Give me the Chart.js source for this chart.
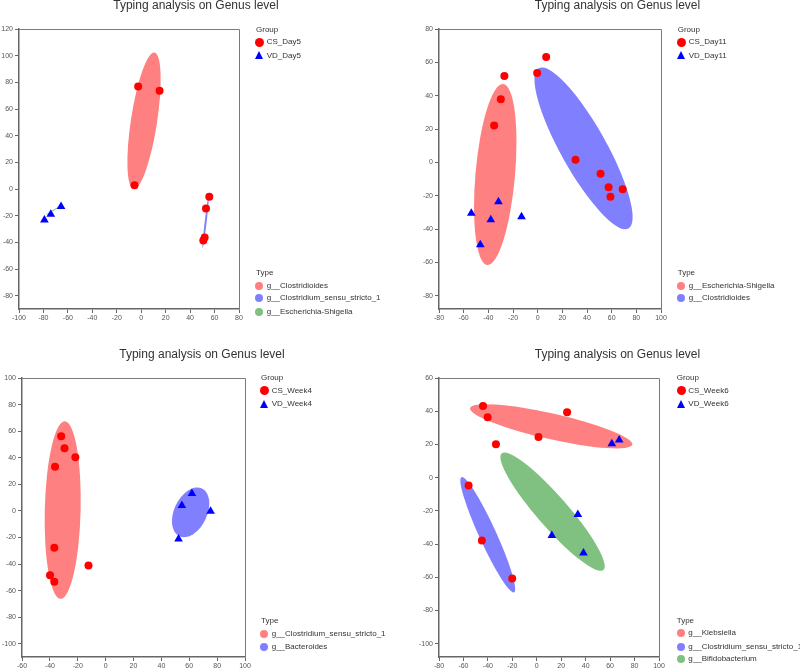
<!DOCTYPE html>
<html>
<head>
<meta charset="utf-8">
<script src="https://cdn.jsdelivr.net/npm/chart.js@4.4.1/dist/chart.umd.min.js"></script>
<style>
  html, body { margin:0; padding:0; background:#fff; }
  #wrap { position:relative; width:800px; height:670px; overflow:hidden; font-family:"Liberation Sans", Arial, sans-serif; }
  .panel { position:absolute; width:400px; height:335px; }
  .panel canvas { position:absolute; left:0; top:0; }
  .title { position:absolute; font-size:12px; line-height:12px; color:#333; white-space:nowrap; transform:translateX(-50%); }
  .lg { position:absolute; font-size:8px; line-height:10px; color:#333; white-space:nowrap; }
  .dot { position:absolute; border-radius:50%; }
  .tri { position:absolute; width:0; height:0; border-left:4.5px solid transparent; border-right:4.5px solid transparent; border-bottom:8px solid #0000ff; }
</style>
</head>
<body>
<div id="wrap"></div>
<script>
// ---------- Panel 1 : Day5 ----------
const p1Groups = ["CS_Day5", "VD_Day5"];
const p1Types = ["g__Clostridioides", "g__Clostridium_sensu_stricto_1", "g__Escherichia-Shigella"];
const p1CsX = [-2.5, 15, -5.5, 55.7, 53, 51.9, 50.8];
const p1CsY = [76.9, 73.7, 2.8, -5.9, -14.7, -36.4, -38.7];
const p1VdX = [-65.6, -74, -79.2];
const p1VdY = [-13.2, -19, -23.2];
// ellipses: [centerX, centerY, axis1X, axis1Y, axis2X, axis2Y] in data units
const p1Ell = [[2.3, 51.2, 8.55, 51.2, 10.6, -1.48], [52.7, -24.9, 2.46, 19.4, 0.81, -0.09], [-72.1, -16.1, 5.46, 3.13, 0.22, -0.32]];
const p1XTicks = [-100, -80, -60, -40, -20, 0, 20, 40, 60, 80];
const p1YTicks = [-80, -60, -40, -20, 0, 20, 40, 60, 80, 100, 120];

// ---------- Panel 2 : Day11 ----------
const p2Groups = ["CS_Day11", "VD_Day11"];
const p2Types = ["g__Escherichia-Shigella", "g__Clostridioides"];
const p2CsX = [6.9, -0.4, -27, -29.9, -35.3, 30.7, 51, 57.5, 68.9, 59];
const p2CsY = [63.2, 53.6, 51.8, 37.9, 22.1, 1.5, -6.9, -14.9, -16.1, -20.7];
const p2VdX = [-53.8, -31.8, -38, -13.1, -46.5];
const p2VdY = [-30.6, -23.7, -34.5, -32.6, -49.4];
const p2Ell = [[-34.4, -7.3, 6.42, 54.3, 15.97, -1.03], [37.2, 8.4, -36.4, 48.1, 16.1, 6.67]];
const p2XTicks = [-80, -60, -40, -20, 0, 20, 40, 60, 80, 100];
const p2YTicks = [-80, -60, -40, -20, 0, 20, 40, 60, 80];

// ---------- Panel 3 : Week4 ----------
const p3Groups = ["CS_Week4", "VD_Week4"];
const p3Types = ["g__Clostridium_sensu_stricto_1", "g__Bacteroides"];
const p3CsX = [-31.9, -29.5, -21.7, -36.3, -36.8, -12.3, -39.9, -36.8];
const p3CsY = [56.2, 47.2, 40.4, 33.2, -27.7, -41.2, -48.4, -53.4];
const p3VdX = [61.9, 54.7, 75.3, 52.3];
const p3VdY = [13, 4, -0.3, -21.1];
const p3Ell = [[-30.8, 0.6, 1.5, 66.8, 12.86, -0.31], [61, -1.1, 8.12, 18.0, 10.68, -5.26]];
const p3XTicks = [-60, -40, -20, 0, 20, 40, 60, 80, 100];
const p3YTicks = [-100, -80, -60, -40, -20, 0, 20, 40, 60, 80, 100];

// ---------- Panel 4 : Week6 ----------
const p4Groups = ["CS_Week6", "VD_Week6"];
const p4Types = ["g__Klebsiella", "g__Clostridium_sensu_stricto_1", "g__Bifidobacterium"];
const p4CsX = [-44, -40.2, 24.8, 1.4, -33.4, -55.8, -44.9, -20.1];
const p4CsY = [43.2, 36.4, 39.4, 24.4, 20.1, -4.7, -37.9, -60.8];
const p4VdX = [61.4, 67.4, 33.6, 12.3, 38.2];
const p4VdY = [20.4, 22.6, -22.2, -34.8, -45.4];
const p4Ell = [[11.8, 30.9, 66.4, -11.0, -2.31, -7.54], [-40.1, -34.4, -21.5, 34.7, 6.4, 2.14], [12.9, -20.5, -41.6, 35.1, 9.55, 6.12]];
const p4XTicks = [-80, -60, -40, -20, 0, 20, 40, 60, 80, 100];
const p4YTicks = [-100, -80, -60, -40, -20, 0, 20, 40, 60];

const TYPE_COLORS = ["rgb(255,128,128)", "rgb(128,128,255)", "rgb(128,192,128)"];
const TITLE = "Typing analysis on Genus level";

const panels = [
  { left:0, top:0, groups:p1Groups, types:p1Types, csX:p1CsX, csY:p1CsY, vdX:p1VdX, vdY:p1VdY, ell:p1Ell, xT:p1XTicks, yT:p1YTicks,
    xMin:-100, xMax:80, yMin:-90, yMax:120, L:19, R:161, T:29, B:26, titleX:196, titleY:-0.7,
    lg:{ hx:256, mx:259.3, tx:266.7, gy:[30, 42.2, 55.5], ty:[273.3, 285.7, 298.3, 311.7] } },
  { left:400, top:0, groups:p2Groups, types:p2Types, csX:p2CsX, csY:p2CsY, vdX:p2VdX, vdY:p2VdY, ell:p2Ell, xT:p2XTicks, yT:p2YTicks,
    xMin:-80, xMax:100, yMin:-88, yMax:80, L:39, R:139, T:29, B:26, titleX:217.5, titleY:-0.7,
    lg:{ hx:277.7, mx:281, tx:288.7, gy:[30, 42.3, 55.5], ty:[273.3, 285.7, 298.3] } },
  { left:0, top:335, groups:p3Groups, types:p3Types, csX:p3CsX, csY:p3CsY, vdX:p3VdX, vdY:p3VdY, ell:p3Ell, xT:p3XTicks, yT:p3YTicks,
    xMin:-60, xMax:100, yMin:-110, yMax:100, L:22, R:155, T:43, B:13, titleX:202, titleY:13,
    lg:{ hx:261, mx:264.3, tx:271.7, gy:[43.3, 55.7, 69.3], ty:[286, 299, 312.3] } },
  { left:400, top:335, groups:p4Groups, types:p4Types, csX:p4CsX, csY:p4CsY, vdX:p4VdX, vdY:p4VdY, ell:p4Ell, xT:p4XTicks, yT:p4YTicks,
    xMin:-80, xMax:100, yMin:-108, yMax:60, L:39, R:141, T:43, B:13, titleX:217.5, titleY:13,
    lg:{ hx:676.7-400, mx:281, tx:288.3, gy:[43.3, 55.7, 69.3], ty:[286, 298.3, 311.7, 324] } }
];

function zip(xs, ys) { return xs.map((x, i) => ({ x: x, y: ys[i] })); }

function ellipsePlugin(ell) {
  return {
    id: 'ellipses',
    beforeDatasetsDraw(chart) {
      const ctx = chart.ctx, xs = chart.scales.x, ys = chart.scales.y, a = chart.chartArea;
      ctx.save();
      ctx.beginPath();
      ctx.rect(a.left, a.top, a.right - a.left, a.bottom - a.top);
      ctx.clip();
      ell.forEach((e, i) => {
        const cx = xs.getPixelForValue(e[0]), cy = ys.getPixelForValue(e[1]);
        const ux = xs.getPixelForValue(e[0] + e[2]) - cx, uy = ys.getPixelForValue(e[1] + e[3]) - cy;
        const vx = xs.getPixelForValue(e[0] + e[4]) - cx, vy = ys.getPixelForValue(e[1] + e[5]) - cy;
        ctx.save();
        ctx.transform(ux, uy, vx, vy, cx, cy);
        ctx.beginPath();
        ctx.arc(0, 0, 1, 0, Math.PI * 2);
        ctx.restore();
        ctx.fillStyle = TYPE_COLORS[i];
        ctx.fill();
      });
      ctx.restore();
    }
  };
}

const boxPlugin = {
  id: 'box',
  afterDraw(chart) {
    const ctx = chart.ctx, a = chart.chartArea;
    ctx.save();
    ctx.strokeStyle = '#7a7a7a';
    ctx.lineWidth = 1;
    ctx.beginPath();
    ctx.moveTo(a.left, a.top + 0.5); ctx.lineTo(a.right + 0.5, a.top + 0.5); ctx.lineTo(a.right + 0.5, a.bottom);
    ctx.stroke();
    ctx.restore();
  }
};

const wrap = document.getElementById('wrap');

panels.forEach((p) => {
  const div = document.createElement('div');
  div.className = 'panel';
  div.style.left = p.left + 'px';
  div.style.top = p.top + 'px';
  const cv = document.createElement('canvas');
  cv.width = 400; cv.height = 335;
  cv.style.width = '400px'; cv.style.height = '335px';
  div.appendChild(cv);
  wrap.appendChild(div);

  const t = document.createElement('div');
  t.className = 'title';
  t.textContent = TITLE;
  t.style.left = p.titleX + 'px';
  t.style.top = p.titleY + 'px';
  div.appendChild(t);

  const addText = (txt, x, cy) => {
    const d = document.createElement('div');
    d.className = 'lg';
    d.textContent = txt;
    d.style.left = x + 'px';
    d.style.top = (cy - 5) + 'px';
    div.appendChild(d);
  };
  const addDot = (color, cx, cy, r) => {
    const d = document.createElement('div');
    d.className = 'dot';
    d.style.background = color;
    d.style.width = (2 * r) + 'px'; d.style.height = (2 * r) + 'px';
    d.style.left = (cx - r) + 'px'; d.style.top = (cy - r) + 'px';
    div.appendChild(d);
  };
  const addTri = (cx, cy) => {
    const d = document.createElement('div');
    d.className = 'tri';
    d.style.left = (cx - 4.5) + 'px'; d.style.top = (cy - 4.5) + 'px';
    div.appendChild(d);
  };
  const lg = p.lg;
  addText('Group', lg.hx, lg.gy[0]);
  addDot('#ff0000', lg.mx, lg.gy[1], 4.5); addText(p.groups[0], lg.tx, lg.gy[1]);
  addTri(lg.mx, lg.gy[2]); addText(p.groups[1], lg.tx, lg.gy[2]);
  addText('Type', lg.hx, lg.ty[0]);
  p.types.forEach((ty, i) => {
    addDot(TYPE_COLORS[i], lg.mx, lg.ty[i + 1], 4);
    addText(ty, lg.tx, lg.ty[i + 1]);
  });

  const tickFont = { family: '"Liberation Sans", Arial, sans-serif', size: 7 };
  new Chart(cv, {
    type: 'scatter',
    data: {
      datasets: [
        { label: p.groups[0], data: zip(p.csX, p.csY), pointStyle: 'circle', pointRadius: 4, pointHoverRadius: 4,
          backgroundColor: '#ff0000', borderColor: '#ff0000', borderWidth: 0 },
        { label: p.groups[1], data: zip(p.vdX, p.vdY), pointStyle: 'triangle', pointRadius: 5, pointHoverRadius: 5,
          backgroundColor: '#0000ff', borderColor: '#0000ff', borderWidth: 0 }
      ]
    },
    options: {
      responsive: false,
      animation: false,
      devicePixelRatio: 1,
      events: [],
      layout: { padding: { left: 0, right: p.R, top: p.T, bottom: 0 } },
      plugins: { legend: { display: false }, title: { display: false }, tooltip: { enabled: false } },
      scales: {
        x: {
          type: 'linear', min: p.xMin, max: p.xMax,
          afterBuildTicks: (ax) => { ax.ticks = p.xT.map(v => ({ value: v })); },
          afterFit: (ax) => { ax.height = p.B; },
          grid: { drawOnChartArea: false, drawTicks: true, tickLength: 4, color: '#666', lineWidth: 1 },
          border: { display: true, color: '#666', width: 1.5 },
          ticks: { autoSkip: false, maxRotation: 0, font: tickFont, color: '#555', padding: 1 }
        },
        y: {
          type: 'linear', min: p.yMin, max: p.yMax,
          afterBuildTicks: (ax) => { ax.ticks = p.yT.map(v => ({ value: v })); },
          afterFit: (ax) => { ax.width = p.L; },
          grid: { drawOnChartArea: false, drawTicks: true, tickLength: 4, color: '#666', lineWidth: 1 },
          border: { display: true, color: '#666', width: 1.5 },
          ticks: { autoSkip: false, font: tickFont, color: '#555', padding: 2 }
        }
      }
    },
    plugins: [ellipsePlugin(p.ell), boxPlugin]
  });
});
</script>
</body>
</html>
